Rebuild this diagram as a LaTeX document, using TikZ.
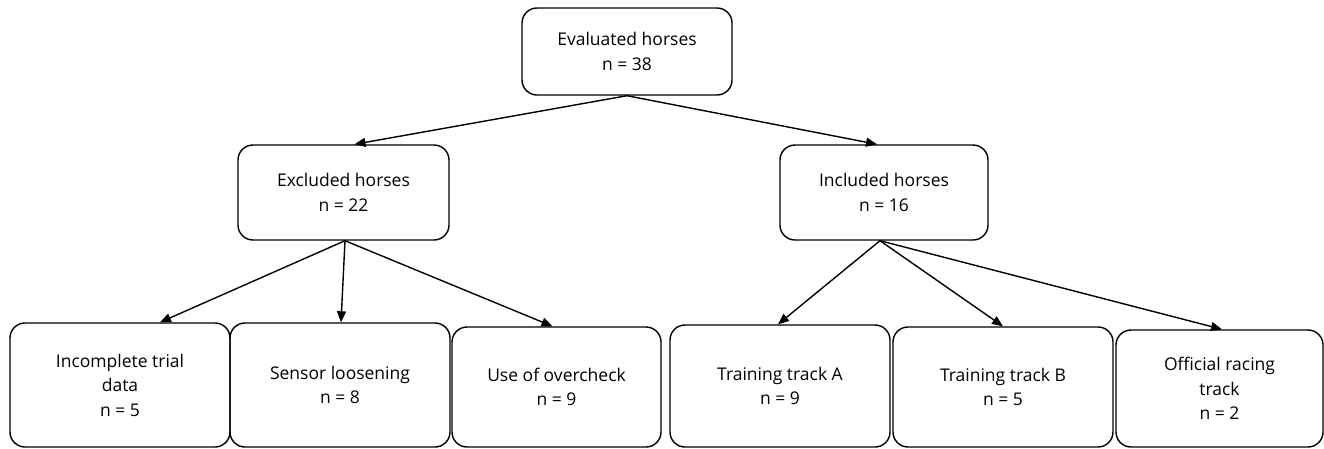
\documentclass[tikz,border=0pt]{standalone}
\usepackage{fontspec}
\setmainfont{Open Sans}
\usetikzlibrary{arrows.meta}
\begin{document}
\begin{tikzpicture}[x=1pt,y=-1pt,
  box/.style={draw=black, line width=1.4pt, rounded corners=15pt, align=center,
    font=\fontsize{17.5}{24.5}\selectfont, inner sep=0pt},
  arr/.style={line width=1.4pt, -{Triangle[length=11pt,width=9pt]}}]
\useasboundingbox (0,0) rectangle (1324,448);
\node[box, minimum width=210pt, minimum height=87pt] (top) at (627,51.5) {Evaluated horses\\n = 38};
\node[box, minimum width=211pt, minimum height=95pt] (excl) at (343.5,192.5) {Excluded horses\\n = 22};
\node[box, minimum width=208pt, minimum height=95pt] (incl) at (884,192.5) {Included horses\\n = 16};
\node[box, minimum width=220pt, minimum height=124pt] (inc) at (120,385) {Incomplete trial\\data\\n = 5};
\node[box, minimum width=220pt, minimum height=124pt] (sens) at (340,385) {Sensor loosening\\n = 8};
\node[box, minimum width=209pt, minimum height=120pt] (over) at (556.5,387) {Use of overcheck\\n = 9};
\node[box, minimum width=220pt, minimum height=122pt] (trA) at (780,386) {Training track A\\n = 9};
\node[box, minimum width=220pt, minimum height=120pt] (trB) at (1003,387) {Training track B\\n = 5};
\node[box, minimum width=207pt, minimum height=117pt] (off) at (1219.5,388.5) {Official racing\\track\\n = 2};
\draw[arr] (top.south) -- ([xshift=11pt]excl.north);
\draw[arr] (top.south) -- ([xshift=-7pt]incl.north);
\draw[arr] ([xshift=1.5pt]excl.south) -- ([xshift=40pt]inc.north);
\draw[arr] ([xshift=1.5pt]excl.south) -- ([xshift=1pt]sens.north);
\draw[arr] ([xshift=1.5pt]excl.south) -- ([xshift=-4pt]over.north);
\draw[arr] ([xshift=-4pt]incl.south) -- ([xshift=-2pt]trA.north);
\draw[arr] ([xshift=-4pt]incl.south) -- (trB.north);
\draw[arr] ([xshift=-4pt]incl.south) -- ([xshift=2.5pt]off.north);
\end{tikzpicture}
\end{document}
